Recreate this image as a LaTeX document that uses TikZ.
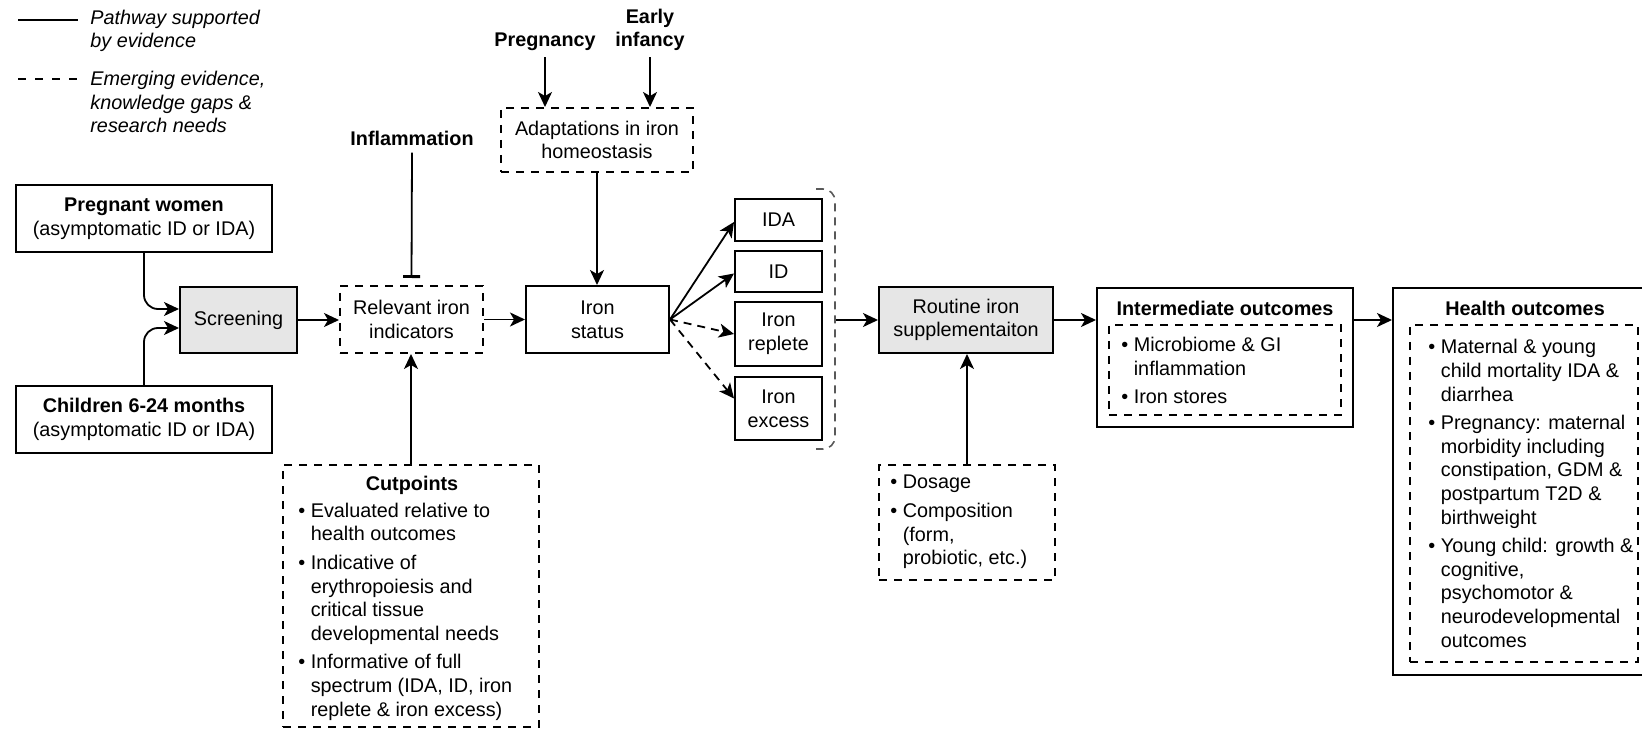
\documentclass[tikz,border=0pt]{standalone}
\usepackage{fontspec}
\setmainfont{Liberation Sans}
\usetikzlibrary{arrows.meta}
\newcommand\fsz{\fontsize{9.9pt}{11.8pt}\selectfont}
\newcommand\bl{\textbullet\ }
\newcommand\ind{\phantom{\textbullet\ }}
\definecolor{boxgray}{RGB}{230,230,230}
\begin{document}
\begin{tikzpicture}[x=0.5pt,y=-0.5pt,
  txt/.style={font=\fsz, inner sep=0pt},
  box/.style={draw, line width=1pt, inner sep=0pt, align=center, font=\fsz},
  dbox/.style={box, dash pattern=on 4pt off 3.5pt},
  gbox/.style={box, fill=boxgray},
  lst/.style={txt, anchor=west, align=left},
  arr/.style={-{Stealth[length=7.5pt,width=7pt,inset=2pt]}, line width=0.9pt},
  darr/.style={arr, dash pattern=on 4pt off 3pt},
  brk/.style={draw=black!65, line width=0.8pt, dash pattern=on 4pt off 3pt, rounded corners=6pt}
]
\useasboundingbox (0,0) rectangle (1642,732);

% legend
\coordinate (l1a) at (18,20); \coordinate (l1b) at (78,20);
\coordinate (l2a) at (18,79); \coordinate (l2b) at (78,79);
\draw[line width=0.9pt] (l1a) -- (l1b);
\draw[line width=0.9pt, dash pattern=on 4pt off 4.5pt] (l2a) -- (l2b);
\node[lst, font=\fsz\itshape] (leg1) at (90,31) {Pathway supported\\by evidence};
\node[lst, font=\fsz\itshape] (leg2) at (90,102) {Emerging evidence,\\knowledge gaps \&\\research needs};

% left column
\node[box, minimum width=128pt, minimum height=33.5pt] (preg) at (144,218.5) {\textbf{Pregnant women}\\(asymptomatic ID or IDA)};
\node[box, minimum width=128pt, minimum height=33.5pt] (child) at (144,419.5) {\textbf{Children 6-24 months}\\(asymptomatic ID or IDA)};
\node[gbox, minimum width=58.5pt, minimum height=33pt] (scr) at (238.5,320) {Screening};
\node[dbox, minimum width=71.5pt, minimum height=33.5pt] (rel) at (411.5,319.5) {Relevant iron\\indicators};
\node[box, minimum width=71.5pt, minimum height=33.5pt] (stat) at (597.5,319.5) {Iron\\status};
\node[dbox, minimum width=96pt, minimum height=32pt] (adapt) at (597,140) {Adaptations in iron\\homeostasis};

\node[txt, font=\fsz\bfseries] (infl) at (412,138) {Inflammation};
\node[txt, font=\fsz\bfseries] (pregn) at (545,42) {Pregnancy};
\node[txt, font=\fsz\bfseries, align=center] (early) at (650,30) {Early\\infancy};

% cutpoints
\node[dbox, minimum width=128pt, minimum height=131pt] (cut) at (411,596) {};
\node[txt, font=\fsz\bfseries] (cutt) at (412,485) {Cutpoints};
\node[lst] (cutl) at (298,611.5) {\bl Evaluated relative to\\\ind health outcomes\\[2.5pt]\bl Indicative of\\\ind erythropoiesis and\\\ind critical tissue\\\ind developmental needs\\[2.5pt]\bl Informative of full\\\ind spectrum (IDA, ID, iron\\\ind replete \& iron excess)};

% iron status categories
\node[box, minimum width=43.5pt, minimum height=21pt] (ida) at (778.5,220) {IDA};
\node[box, minimum width=43.5pt, minimum height=20.5pt] (id) at (778.5,271.5) {ID};
\node[box, minimum width=43.5pt, minimum height=32pt] (rep) at (778.5,334) {Iron\\replete};
\node[box, minimum width=43.5pt, minimum height=31.5pt] (exc) at (778.5,408.5) {Iron\\excess};
\draw[brk] (816,189) -- (835,189) -- (835,449) -- (816,449);
\coordinate (brkc) at (836,320);

% supplementation
\node[gbox, minimum width=87pt, minimum height=33pt] (rout) at (966,320) {Routine iron\\supplementaiton};
\node[dbox, minimum width=88pt, minimum height=57.5pt] (dos) at (967,522.5) {};
\node[lst] (dosl) at (890,522) {\bl Dosage\\[2.5pt]\bl Composition\\\ind (form,\\\ind probiotic, etc.)};

% intermediate outcomes
\node[box, minimum width=128pt, minimum height=69.5pt] (inter) at (1225,357.5) {};
\node[txt, font=\fsz\bfseries] (intert) at (1225,308) {Intermediate outcomes};
\node[dbox, minimum width=116pt, minimum height=45pt] (interin) at (1225,370) {};
\node[lst] (interl) at (1121,370.5) {\bl Microbiome \& GI\\\ind inflammation\\[2.5pt]\bl Iron stores};

% health outcomes
\node[box, minimum width=131pt, minimum height=193.5pt] (health) at (1524,481.5) {};
\node[txt, font=\fsz\bfseries] (healtht) at (1525,308) {Health outcomes};
\node[dbox, minimum width=114pt, minimum height=168.5pt] (healthin) at (1524,493.5) {};
\node[lst] (healthl) at (1428,493.5) {\bl Maternal \& young\\\ind child mortality IDA \&\\\ind diarrhea\\[2.5pt]\bl Pregnancy: maternal\\\ind morbidity including\\\ind constipation, GDM \&\\\ind postpartum T2D \&\\\ind birthweight\\[2.5pt]\bl Young child: growth \&\\\ind cognitive,\\\ind psychomotor \&\\\ind neurodevelopmental\\\ind outcomes};

% connectors
\draw[arr, rounded corners=7pt] (preg.south) |- ([yshift=5.5pt]scr.west);
\draw[arr, rounded corners=7pt] (child.north) |- ([yshift=-4pt]scr.west);
\draw[arr] (scr.east) -- (scr.east -| rel.west);
\draw[arr] (rel.east) -- (rel.east -| stat.west);
\draw[line width=0.9pt, -{Bar[width=8.5pt,line width=1.4pt]}] ([yshift=-3.5pt]infl.south) -- ([yshift=3.5pt]rel.north);
\draw[arr] (cut.north) -- (cut.north |- rel.south);
\draw[arr] ([yshift=-3pt]pregn.south) -- (pregn.south |- adapt.north);
\draw[arr] ([yshift=-3pt]early.south) -- (early.south |- adapt.north);
\draw[arr] (adapt.south) -- (adapt.south |- stat.north);
\draw[arr] (stat.east) -- ([yshift=-1pt]ida.west);
\draw[arr] (stat.east) -- ([yshift=-1pt]id.west);
\draw[darr] (stat.east) -- (rep.west);
\draw[darr] (stat.east) -- ([yshift=5pt]exc.west);
\draw[arr] (brkc) -- (brkc -| rout.west);
\draw[arr] (dos.north) -- (dos.north |- rout.south);
\draw[arr] (rout.east) -- (rout.east -| inter.west);
\draw[arr] (inter.east |- rout.east) -- (health.west |- rout.east);
\end{tikzpicture}
\end{document}
